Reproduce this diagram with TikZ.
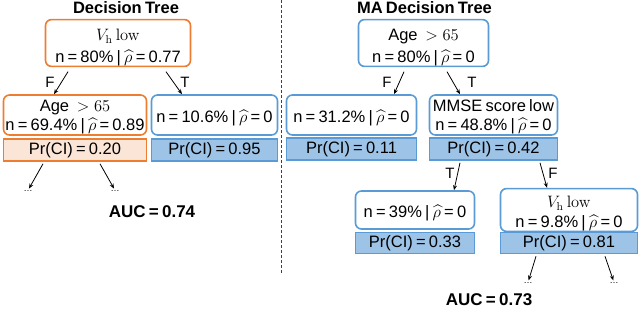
\documentclass[tikz,border=0pt]{standalone}
\usepackage{fix-cm}
\usepackage{amsmath}
\usepackage[no-math]{fontspec}
\setmainfont{Liberation Sans}[WordSpace=0.7]
\usetikzlibrary{arrows.meta}
\definecolor{orng}{HTML}{ED7D31}
\definecolor{orngfill}{HTML}{FBE5D6}
\definecolor{blu}{HTML}{5B9BD5}
\definecolor{blufill}{HTML}{9DC3E6}
\tikzset{
  txt/.style={font=\fontsize{16.5}{20}\selectfont, align=center, inner sep=0pt},
  obox/.style={txt, draw=orng, line width=1.6pt, rounded corners=6pt, fill=white},
  bbox/.style={txt, draw=blu, line width=1.6pt, rounded corners=6pt, fill=white},
  opr/.style={txt, draw=orng, line width=1.6pt, fill=orngfill},
  bpr/.style={txt, draw=blu, line width=1.6pt, fill=blufill},
  ttl/.style={font=\fontsize{16.5}{20}\selectfont\bfseries, inner sep=0pt},
  auc/.style={font=\fontsize{17}{20}\selectfont\bfseries, inner sep=0pt},
  lbl/.style={font=\fontsize{15}{18}\selectfont, inner sep=0pt},
  dots/.style={font=\fontsize{9}{9}\selectfont, inner sep=0pt},
  arr/.style={-{Stealth[length=5pt,width=4pt]}, line width=0.8pt}
}
\newcommand{\rh}{$\widehat{\rho}$}
\newcommand{\vh}{$V_{\mathrm{h}}\ \mathrm{low}$}
\newcommand{\fl}[1]{\rule{0pt}{#1}}
\begin{document}
\begin{tikzpicture}[x=1pt,y=-1pt]
\useasboundingbox (0,0) rectangle (640,308);
% left tree
\node[ttl] (t1) at (126,8) {Decision Tree};
\node[obox, font=\fontsize{16.5}{22}\selectfont, minimum width=145pt, minimum height=43pt] (L0) at (118,43) {\fl{21.3pt}\vh\\ n = 80\% | \rh{} = 0.77};
\node[obox, font=\fontsize{16.5}{19}\selectfont, minimum width=143pt, minimum height=40pt] (L1) at (75,115) {\fl{16.3pt}Age ${}> 65$\\ n = 69.4\% | \rh{} = 0.89};
\node[opr, minimum width=143pt, minimum height=22pt] (L1p) at (75,150) {Pr(CI) = 0.20};
\node[bbox, minimum width=126pt, minimum height=40pt] (L2) at (214.5,115) {\fl{18.3pt}n = 10.6\% | \rh{} = 0};
\node[bpr, minimum width=126pt, minimum height=22pt] (L2p) at (214.5,150) {Pr(CI) = 0.95};
\node[dots] (d1) at (28,191) {\ldots};
\node[dots] (d2) at (115,191) {\ldots};
\node[auc] (auc1) at (152,212) {AUC = 0.74};
\draw[arr] ([xshift=-50pt,yshift=-4.5pt]L0.south) -- ([xshift=-21pt]L1.north);
\draw[arr] ([xshift=48pt,yshift=-4.5pt]L0.south) -- ([xshift=-32.5pt]L2.north);
\node[lbl] (lf1) at (50,82) {F};
\node[lbl] (lt1) at (185,82) {T};
\draw[arr, shorten >=2pt] ([xshift=-32pt,yshift=-2pt]L1p.south) -- (d1.north);
\draw[arr, shorten >=2pt] ([xshift=25pt,yshift=-2pt]L1p.south) -- (d2.north);
% divider
\draw[line width=1pt, dash pattern=on 3pt off 2pt, black!75] (281,0) -- (281,273);
% right tree
\node[ttl] (t2) at (424.5,8) {MA Decision Tree};
\node[bbox, font=\fontsize{16.5}{22}\selectfont, minimum width=130pt, minimum height=43pt] (R0) at (423.5,43) {\fl{21.3pt}Age ${}> 65$\\ n = 80\% | \rh{} = 0};
\node[bbox, minimum width=130pt, minimum height=40pt] (R1) at (351.5,115) {\fl{18.3pt}n = 31.2\% | \rh{} = 0};
\node[bpr, minimum width=130pt, minimum height=22pt] (R1p) at (351.5,149) {Pr(CI) = 0.11};
\node[bbox, font=\fontsize{16.5}{19}\selectfont, minimum width=128pt, minimum height=40pt] (R2) at (493.5,115) {\fl{16.3pt}MMSE score low\\ n = 48.8\% | \rh{} = 0};
\node[bpr, minimum width=128pt, minimum height=22pt] (R2p) at (493.5,149) {Pr(CI) = 0.42};
\node[bbox, minimum width=119pt, minimum height=38pt] (R3) at (415,210) {\fl{18.3pt}n = 39\% | \rh{} = 0};
\node[bpr, minimum width=119pt, minimum height=21pt] (R3p) at (415,243) {Pr(CI) = 0.33};
\node[bbox, font=\fontsize{16.5}{20}\selectfont, minimum width=137pt, minimum height=39pt] (R4) at (569,210) {\fl{19.3pt}\vh\\ n = 9.8\% | \rh{} = 0};
\node[bpr, minimum width=137pt, minimum height=21pt] (R4p) at (569,243) {Pr(CI) = 0.81};
\node[dots] (d3) at (528,283) {\ldots};
\node[dots] (d4) at (614,283) {\ldots};
\node[auc] (auc2) at (489,300) {AUC = 0.73};
\draw[arr] ([xshift=-19.5pt,yshift=-4.5pt]R0.south) -- ([xshift=42.5pt]R1.north);
\draw[arr] ([xshift=23.5pt,yshift=-4.5pt]R0.south) -- ([xshift=-33.5pt]R2.north);
\node[lbl] (lf2) at (387,82) {F};
\node[lbl] (lt2) at (472,82) {T};
\draw[arr] ([xshift=-33.5pt,yshift=-2pt]R2p.south) -- ([xshift=39pt]R3.north);
\draw[arr] ([xshift=46.5pt,yshift=-2pt]R2p.south) -- ([xshift=-22pt]R4.north);
\node[lbl] (lt3) at (450,173) {T};
\node[lbl] (lf3) at (553,173) {F};
\draw[arr, shorten >=2pt] ([xshift=-33pt,yshift=-2pt]R4p.south) -- (d3.north);
\draw[arr, shorten >=2pt] ([xshift=36pt,yshift=-2pt]R4p.south) -- (d4.north);
\end{tikzpicture}
\end{document}
